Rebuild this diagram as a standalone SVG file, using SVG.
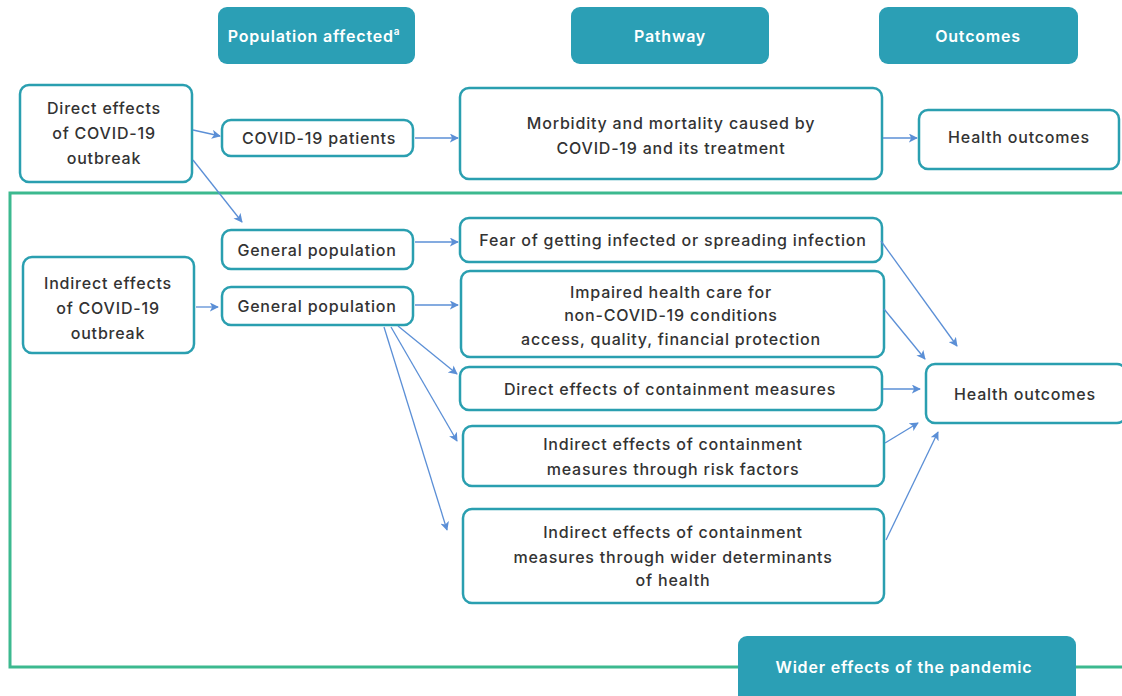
<svg xmlns="http://www.w3.org/2000/svg" width="1122" height="696" viewBox="0 0 1122 696">
<style>
.hdr{fill:#2b9fb5;}
.hdrt{fill:#ffffff;font-family:Inter,"Liberation Sans",sans-serif;font-size:16px;font-weight:600;text-anchor:middle;letter-spacing:0.8px;}
.box{fill:#ffffff;stroke:#2a9fb0;stroke-width:2.5;}
.t{fill:#333333;font-family:Inter,"Liberation Sans",sans-serif;font-size:16px;font-weight:500;text-anchor:middle;letter-spacing:0.8px;}
.c{fill:none;stroke:#5b8fd6;stroke-width:1.3;marker-end:url(#ah);}
</style>
<defs>
<marker id="ah" viewBox="0 0 10 10" refX="9" refY="5" markerWidth="9" markerHeight="9" markerUnits="userSpaceOnUse" orient="auto">
<path d="M0,0 L10,5 L0,10 L2.5,5 Z" fill="#5b8fd6"/>
</marker>
</defs>
<rect width="1122" height="696" fill="#ffffff"/>
<rect x="10" y="193" width="1130" height="474" fill="none" stroke="#3cb98f" stroke-width="3"/>

<g id="hdr-population"><rect class="hdr" x="218" y="7" width="197" height="57" rx="9"/><text class="hdrt" x="314" y="42">Population affected<tspan font-size="10" dy="-7">a</tspan></text></g>
<g id="hdr-pathway"><rect class="hdr" x="571" y="7" width="198" height="57" rx="9"/><text class="hdrt" x="670" y="42">Pathway</text></g>
<g id="hdr-outcomes"><rect class="hdr" x="879" y="7" width="199" height="57" rx="9"/><text class="hdrt" x="978" y="42">Outcomes</text></g>
<g id="hdr-wider"><rect class="hdr" x="738" y="636" width="338" height="70" rx="9"/><text class="hdrt" x="904" y="673">Wider effects of the pandemic</text></g>

<g id="direct-effects"><rect class="box" x="20" y="85" width="172" height="97" rx="9"/><text class="t" x="104" y="114">Direct effects</text><text class="t" x="104" y="139">of COVID-19</text><text class="t" x="104" y="164">outbreak</text></g>
<g id="covid-patients"><rect class="box" x="222" y="120" width="191" height="36" rx="9"/><text class="t" x="319" y="144">COVID-19 patients</text></g>
<g id="morbidity"><rect class="box" x="460" y="88" width="422" height="91" rx="9"/><text class="t" x="671" y="129">Morbidity and mortality caused by</text><text class="t" x="671" y="154">COVID-19 and its treatment</text></g>
<g id="health-outcomes-1"><rect class="box" x="919" y="110" width="200" height="59" rx="9"/><text class="t" x="1019" y="143">Health outcomes</text></g>

<g id="general-pop-1"><rect class="box" x="222" y="230" width="191" height="39" rx="9"/><text class="t" x="317" y="256">General population</text></g>
<g id="indirect-effects"><rect class="box" x="23" y="257" width="171" height="96" rx="9"/><text class="t" x="108" y="289">Indirect effects</text><text class="t" x="108" y="314">of COVID-19</text><text class="t" x="108" y="339">outbreak</text></g>
<g id="general-pop-2"><rect class="box" x="222" y="287" width="191" height="38" rx="9"/><text class="t" x="317" y="312">General population</text></g>

<g id="fear"><rect class="box" x="460" y="218" width="422" height="44" rx="9"/><text class="t" x="673" y="246">Fear of getting infected or spreading infection</text></g>
<g id="impaired"><rect class="box" x="461" y="271" width="423" height="86" rx="9"/><text class="t" x="671" y="298">Impaired health care for</text><text class="t" x="671" y="321">non-COVID-19 conditions</text><text class="t" x="671" y="345">access, quality, financial protection</text></g>
<g id="direct-containment"><rect class="box" x="460" y="367" width="422" height="43" rx="9"/><text class="t" x="670" y="395">Direct effects of containment measures</text></g>
<g id="indirect-risk"><rect class="box" x="463" y="426" width="421" height="60" rx="9"/><text class="t" x="673" y="450">Indirect effects of containment</text><text class="t" x="673" y="475">measures through risk factors</text></g>
<g id="indirect-wider"><rect class="box" x="463" y="509" width="421" height="94" rx="9"/><text class="t" x="673" y="538">Indirect effects of containment</text><text class="t" x="673" y="563">measures through wider determinants</text><text class="t" x="673" y="586">of health</text></g>
<g id="health-outcomes-2"><rect class="box" x="926" y="364" width="200" height="59" rx="9"/><text class="t" x="1025" y="400">Health outcomes</text></g>

<g id="connectors">
<path class="c" d="M193,130 L220,136"/>
<path class="c" d="M193,160 L242,222"/>
<path class="c" d="M415,138 L458,138"/>
<path class="c" d="M883,138 L917,138"/>
<path class="c" d="M415,242 L458,242"/>
<path class="c" d="M196,307 L218,307"/>
<path class="c" d="M415,305 L458,305"/>
<path class="c" d="M398,326 L457,374"/>
<path class="c" d="M391,327 L457,441"/>
<path class="c" d="M384,327 L447,530"/>
<path class="c" d="M881,241 L957,346"/>
<path class="c" d="M884,309 L925,359"/>
<path class="c" d="M883,389 L920,389"/>
<path class="c" d="M885,443 L918,423"/>
<path class="c" d="M886,540 L938,432"/>
</g>
</svg>
